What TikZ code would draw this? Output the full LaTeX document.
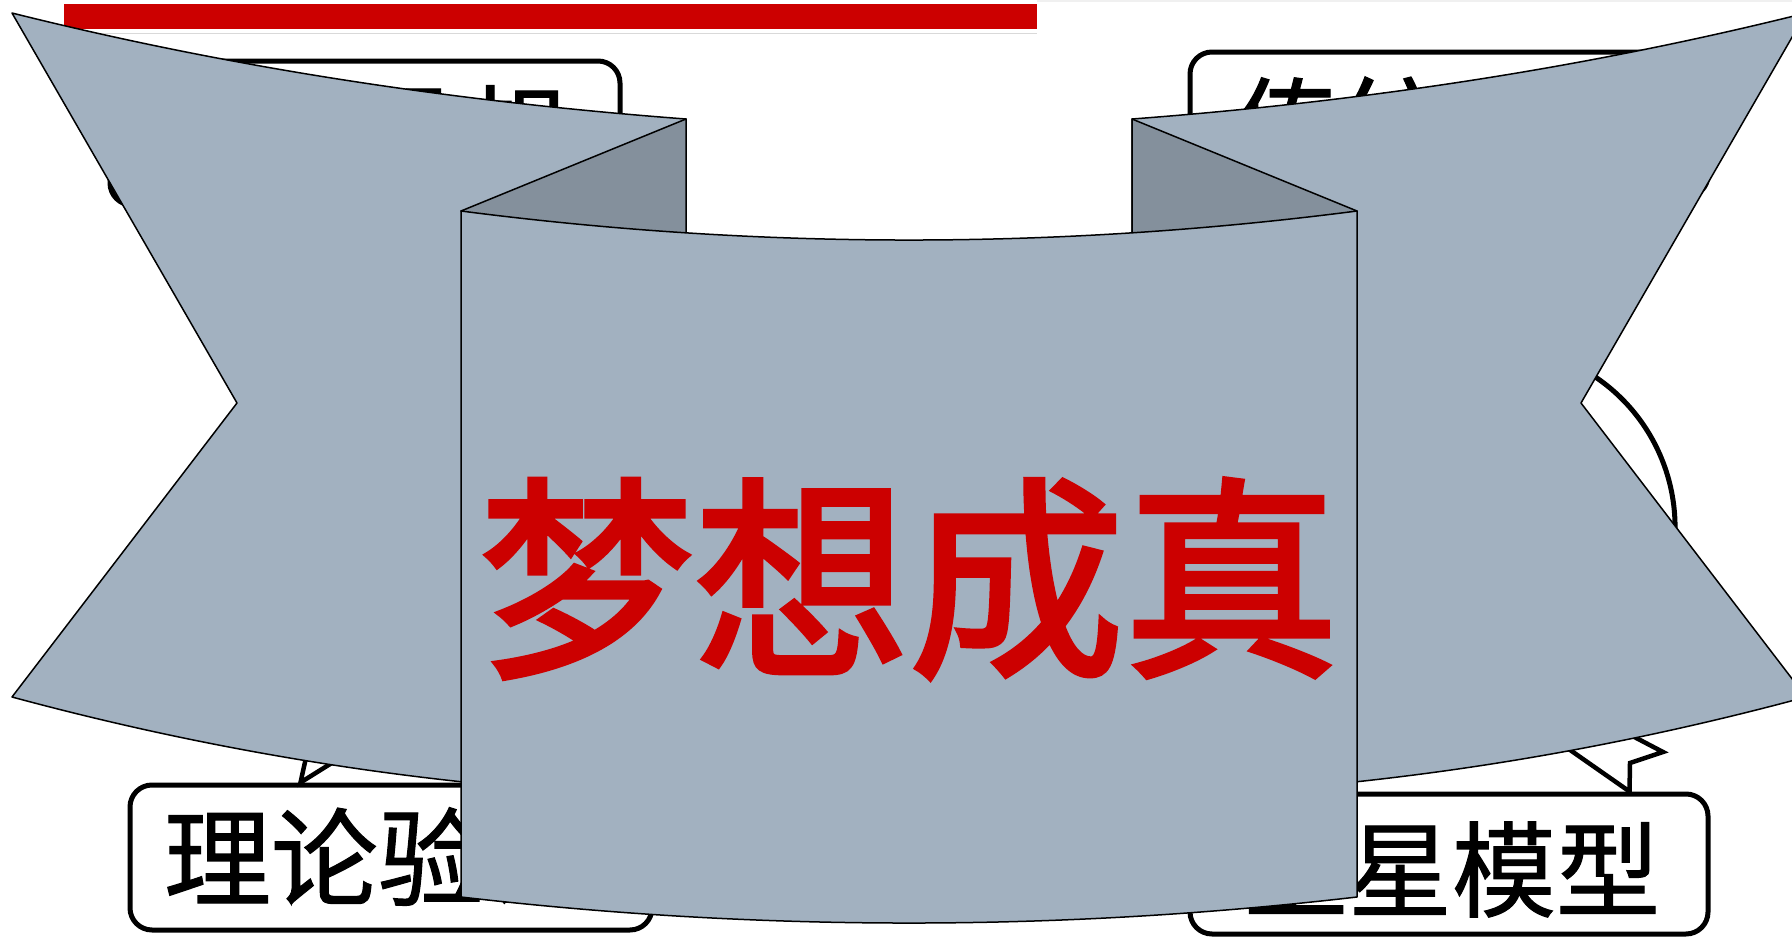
\documentclass[tikz,border=0pt]{standalone}
\usepackage{fontspec}
\newfontfamily\songti[FakeBold=1]{Noto Sans CJK SC}
\newfontfamily\titlefont[FakeBold=2.5]{Noto Sans CJK SC}
\usetikzlibrary{calc}
\definecolor{ribbon}{HTML}{A2B1C0}
\definecolor{ribbondark}{HTML}{84909C}
\definecolor{titlered}{HTML}{CC0000}
\begin{document}
\begin{tikzpicture}[x=1pt,y=-1pt,
  box/.style={draw=black, line width=5pt, rounded corners=22pt, fill=white, inner sep=0pt},
  boxtext/.style={font=\songti\fontsize{#1}{#1}\selectfont, inner sep=0pt, anchor=base},
  tail/.style={draw=black, line width=4.5pt, line join=miter},
  wing/.style={fill=ribbon, draw=black, line width=1.5pt, line join=round},
  fold/.style={fill=ribbondark, draw=black, line width=1.5pt, line join=round},
  titletext/.style={font=\titlefont\fontsize{215}{215}\selectfont, text=titlered, inner sep=0pt, anchor=base}]
\useasboundingbox (0,0) rectangle (1792,937);
\clip (0,0) rectangle (1792,937);
\fill[white] (0,0) rectangle (1792,937);
% header bar
\fill[titlered] (64,4) rectangle (1037,29);
\draw[black!15, line width=1pt] (64,33) -- (1037,33);
\draw[black!6, line width=1.5pt] (1037,0.75) -- (1792,0.75);
% boxes
\node[box, minimum width=510pt, minimum height=144pt] (tlbox) at (365,133) {};
\node[boxtext=107] (tltext) at (354,175) {牛顿设想};
\node[box, minimum width=518pt, minimum height=145pt] (trbox) at (1449,124.5) {};
\node[boxtext=107] (trtext) at (1447,167) {传统观念};
\node[box, minimum width=522pt, minimum height=145pt] (blbox) at (391,857.5) {};
\node[boxtext=107] (bltext) at (378,898) {理论验证};
\node[box, minimum width=518pt, minimum height=140pt] (brbox) at (1449,864) {};
\node[boxtext=104] (brtext) at (1452,909) {卫星模型};
% callout tails
\coordinate (blt) at ($(blbox.north west)+(173,0)$);
\coordinate (blt1) at (313,726);
\coordinate (blt2) at (375,736);
\draw[tail] (blt1) -- (blt) -- (blt2);
\coordinate (brt) at ($(brbox.north west)+(442,0)$);
\coordinate (brt1) at (1520,715);
\coordinate (brz1) at (1630,763);
\coordinate (brz2) at (1663,752);
\coordinate (brz3) at (1600,719);
\draw[tail] (brt1) -- (brt) -- (brz1) -- (brz2) -- (brz3);
\coordinate (arcc) at (1494,527);
\draw[line width=5pt] (arcc) ++(-70:181) arc(-70:20:181);
% ribbon wings
\path[wing] (12,13) .. controls (236.7,69.2) and (461.3,102.1) .. (686,119)
  -- (686,797) .. controls (461.3,790.7) and (236.7,757.7) .. (12,697)
  -- (237,403) -- cycle;
\path[wing] (1806,13) .. controls (1581.3,69.2) and (1356.7,102.1) .. (1132,119)
  -- (1132,797) .. controls (1356.7,790.7) and (1581.3,757.7) .. (1806,697)
  -- (1581,403) -- cycle;
% folds
\path[fold] (686,119) -- (461,211) -- (686,260) -- cycle;
\path[fold] (1132,119) -- (1357,211) -- (1132,260) -- cycle;
% centre panel
\path[wing] (461,211) .. controls (759.7,249.7) and (1058.3,249.7) .. (1357,211)
  -- (1357,897) .. controls (1058.3,931.7) and (759.7,931.7) .. (461,897) -- cycle;
\node[titletext] (title) at (909,660) {梦想成真};
\end{tikzpicture}
\end{document}
